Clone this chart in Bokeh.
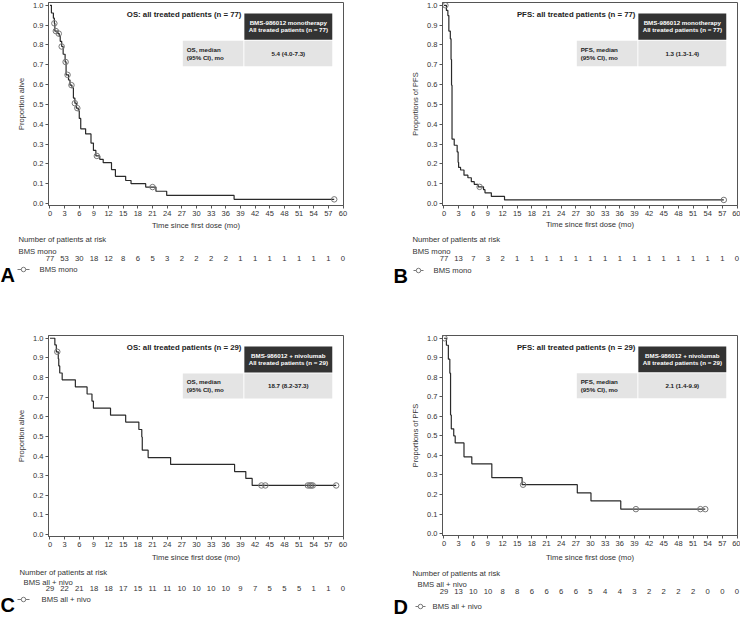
import numpy as np
from bokeh.plotting import figure
from bokeh.layouts import column, row
from bokeh.models import Range1d, FixedTicker, PrintfTickFormatter, Plot, ColumnDataSource
from bokeh.core.properties import value
from bokeh.embed import file_html
from bokeh.resources import INLINE

FONT = "Liberation Sans"
NOALIGN = {"frame_align": False} if "frame_align" in Plot.properties() else {}

# ---------------- data ----------------
x_ticks = list(range(0, 61, 3))
y_ticks = [0.0, 0.1, 0.2, 0.3, 0.4, 0.5, 0.6, 0.7, 0.8, 0.9, 1.0]

# A: OS, BMS-986012 monotherapy (n = 77)
times_A = [0, 0.3, 0.7, 0.9, 1.0, 1.6, 1.9, 2.1, 2.4, 2.7, 3.1, 3.3, 3.8, 4.1, 4.5,
           4.8, 5.1, 5.4, 5.8, 6.0, 6.3, 7.3, 8.4, 8.9, 9.4, 10.2, 10.9, 12.6, 13.4,
           15.5, 16.6, 19.6, 21.7, 23.9, 37.7]
surv_A = [1.0, 0.961, 0.935, 0.909, 0.870, 0.857, 0.844, 0.818, 0.792, 0.753, 0.714,
          0.649, 0.623, 0.597, 0.584, 0.532, 0.506, 0.481, 0.468, 0.429, 0.377, 0.351,
          0.305, 0.268, 0.240, 0.223, 0.206, 0.171, 0.137, 0.116, 0.100, 0.083, 0.062,
          0.041, 0.021]
end_A = 58.2
censor_A = [0.9, 1.2, 1.8, 2.4, 3.2, 3.6, 4.4, 5.1, 5.6, 9.6, 21.0, 58.2]
risk_A = [77, 53, 30, 18, 12, 8, 6, 5, 3, 2, 2, 2, 2, 1, 1, 1, 1, 1, 1, 1, 0]

# B: PFS, BMS-986012 monotherapy (n = 77)
times_B = [0, 0.5, 0.8, 1.0, 1.3, 1.45, 1.55, 1.65, 2.1, 2.7, 2.9, 3.0, 3.4, 4.1, 4.9,
           5.6, 6.2, 7.0, 8.1, 8.4, 9.7, 12.4]
surv_B = [1.0, 0.974, 0.948, 0.870, 0.831, 0.727, 0.597, 0.325, 0.294, 0.260, 0.208,
          0.182, 0.169, 0.143, 0.130, 0.110, 0.097, 0.084, 0.070, 0.054, 0.036, 0.018]
end_B = 57.3
censor_B = [0.3, 7.3, 57.3]
risk_B = [77, 13, 7, 3, 2, 1, 1, 1, 1, 1, 1, 1, 1, 1, 1, 1, 1, 1, 1, 1, 0]

# C: OS, BMS-986012 + nivolumab (n = 29)
times_C = [0, 1.0, 1.3, 1.7, 1.8, 2.0, 2.5, 5.2, 7.6, 8.6, 8.9, 12.4, 15.5, 18.2, 18.8,
           18.9, 20.1, 24.7, 37.8, 40.1, 41.4]
surv_C = [1.0, 0.966, 0.931, 0.895, 0.859, 0.823, 0.788, 0.752, 0.716, 0.680, 0.644,
          0.608, 0.573, 0.535, 0.497, 0.430, 0.392, 0.357, 0.321, 0.286, 0.250]
end_C = 58.6
censor_C = [1.5, 43.3, 44.1, 52.8, 53.2, 53.5, 53.8, 58.6]
risk_C = [29, 22, 21, 18, 18, 17, 15, 11, 11, 10, 10, 10, 10, 9, 7, 5, 5, 5, 1, 1, 0]

# D: PFS, BMS-986012 + nivolumab (n = 29)
times_D = [0, 0.5, 0.9, 1.2, 1.35, 1.5, 2.0, 2.3, 4.1, 5.7, 9.8, 16.0, 27.3, 30.1, 36.2]
surv_D = [1.0, 0.964, 0.893, 0.821, 0.607, 0.536, 0.500, 0.464, 0.393, 0.357, 0.286,
          0.250, 0.208, 0.167, 0.125]
end_D = 53.5
censor_D = [0.1, 16.2, 39.3, 52.5, 53.5]
risk_D = [29, 13, 10, 10, 8, 8, 6, 6, 6, 6, 5, 4, 4, 3, 2, 2, 2, 2, 0, 0, 0]

# ---------------- layout constants ----------------
X0, X1 = -0.3, 60.1
Y0, Y1 = -0.01, 1.014
W = 370
BOTTOM = 27


def step_path(times, surv, end):
    xs, ys = [times[0]], [surv[0]]
    for t, s_prev, s in zip(times[1:], surv[:-1], surv[1:]):
        xs += [t, t]
        ys += [s_prev, s]
    xs.append(end)
    ys.append(surv[-1])
    return xs, ys


def censor_levels(times, surv, cens):
    idx = np.searchsorted(np.array(times), np.array(cens), side="right") - 1
    return [surv[i] for i in idx]


def txt(p, x, y, s, size="7.5px", align="left", color="#333333", style="normal",
        baseline="middle"):
    p.text(x=[x], y=[y], text=[s], text_font=value(FONT), text_font_size=size,
           text_align=align, text_baseline=baseline, text_color=color,
           text_font_style=style)


def panel(times, surv, end, cens, risk, ylabel, title, box1, box2, stat_txt, group,
          letter, L, R, frame_h, tab_h, xl_standoff, offs, pos):
    H = 2 + frame_h + BOTTOM
    p = figure(width=W, height=H, x_range=Range1d(X0, X1), y_range=Range1d(Y0, Y1),
               output_backend="svg", toolbar_location=None,
               min_border_left=L, min_border_right=R,
               min_border_top=2, min_border_bottom=BOTTOM, **NOALIGN)
    p.xgrid.visible = False
    p.ygrid.visible = False
    p.outline_line_color = "#555555"
    p.outline_line_width = 1
    p.xaxis.ticker = FixedTicker(ticks=x_ticks)
    p.yaxis.ticker = FixedTicker(ticks=y_ticks)
    p.yaxis.formatter = PrintfTickFormatter(format="%.1f")
    for ax in p.xaxis + p.yaxis:
        ax.major_tick_in = 0
        ax.major_tick_out = 3
        ax.minor_tick_line_color = None
        ax.axis_line_color = "#555555"
        ax.major_tick_line_color = "#555555"
        ax.major_label_text_font = FONT
        ax.major_label_text_font_size = "7.5px"
        ax.major_label_text_color = "#333333"
        ax.major_label_standoff = 2
        ax.axis_label_text_font = FONT
        ax.axis_label_text_font_style = "normal"
        ax.axis_label_text_color = "#333333"
    p.yaxis.axis_label = ylabel
    p.yaxis.axis_label_text_font_size = "7.5px"
    p.yaxis.axis_label_standoff = 4
    p.xaxis.axis_label = "Time since first dose (mo)"
    p.xaxis.axis_label_text_font_size = "7.7px"
    p.xaxis.axis_label_standoff = xl_standoff

    # summary table boxes
    p.quad(left=[39.8], right=[57.8], top=[0.958], bottom=[0.826],
           fill_color="#333333", line_color=None)
    p.quad(left=[27.2, 39.8], right=[39.6, 57.8], top=[0.821, 0.821],
           bottom=[0.693, 0.693], fill_color="#e4e4e4", line_color=None)
    txt(p, 39.2, 0.952, title, size="7.8px", align="right", color="#222222", style="bold")
    txt(p, 48.8, 0.912, box1, size="6.2px", align="center", color="white", style="bold")
    txt(p, 48.8, 0.876, box2, size="6.2px", align="center", color="white", style="bold")
    txt(p, 28.0, 0.778, stat_txt[0], size="6.2px", color="#222222", style="bold")
    txt(p, 28.0, 0.737, stat_txt[1], size="6.2px", color="#222222", style="bold")
    txt(p, 48.8, 0.757, stat_txt[2], size="6.2px", align="center", color="#222222",
        style="bold")

    # KM curve
    xs, ys = step_path(times, surv, end)
    p.line(xs, ys, line_color="#2a2a2a", line_width=1.2)
    p.scatter(cens, censor_levels(times, surv, cens), marker="circle", size=5.5,
              fill_color=None, line_color="#777777", line_width=1)

    # number-at-risk table figure (frame spans the full width)
    kx = (X1 - X0) / (W - L - R)
    xs0 = X0 - L * kx
    xe0 = X1 + R * kx
    t = figure(width=W, height=tab_h, x_range=Range1d(xs0, xe0),
               y_range=Range1d(tab_h, 0), output_backend="svg", toolbar_location=None,
               min_border=0, min_border_left=0, min_border_right=0,
               min_border_top=0, min_border_bottom=0,
               x_axis_location=None, y_axis_location=None, **NOALIGN)
    t.xgrid.visible = False
    t.ygrid.visible = False
    t.outline_line_color = None

    def px(v):
        return xs0 + v * kx

    ly = offs["legend"]
    labels = ColumnDataSource(dict(
        x=[px(pos["number"]), px(pos["group"]), px(pos["legtext"])],
        y=[offs["number"], offs["group"], ly],
        text=["Number of patients at risk", group, group]))
    t.text(x="x", y="y", text="text", source=labels, text_font=value(FONT),
           text_font_size="7.7px", text_align="left", text_baseline="middle",
           text_color="#333333")
    t.text(x=x_ticks, y=[offs["numbers"]] * len(x_ticks), text=[str(v) for v in risk],
           text_font=value(FONT), text_font_size="7.7px", text_align="center",
           text_baseline="middle", text_color="#333333")
    t.line([px(pos["leg0"]), px(pos["leg1"])], [ly, ly], line_color="#777777",
           line_width=1)
    t.scatter([px((pos["leg0"] + pos["leg1"]) / 2)], [ly], marker="circle", size=4.5,
              fill_color="white", line_color="#777777", line_width=1)
    txt(t, px(pos["letter"]), offs["letter"], letter, size="20px", color="black",
        style="bold")
    return column(p, t)


offs_A = dict(number=7, group=19, numbers=26, legend=37, letter=42)
offs_B = dict(number=7, group=19, numbers=26, legend=38, letter=43)
offs_C = dict(number=8, group=18, numbers=24, legend=35, letter=40)
offs_D = dict(number=9, group=20, numbers=27, legend=42, letter=42)

pos_A = dict(number=18, group=18, leg0=17, leg1=29, legtext=39, letter=0)
pos_B = dict(number=42, group=42, leg0=43, leg1=53, legtext=63, letter=23)
pos_C = dict(number=19, group=23, leg0=17, leg1=29, legtext=41, letter=0)
pos_D = dict(number=42, group=47, leg0=45, leg1=55, legtext=62, letter=23)

mono1 = "BMS-986012 monotherapy"
mono2 = "All treated patients (n = 77)"
nivo1 = "BMS-986012 + nivolumab"
nivo2 = "All treated patients (n = 29)"

pA = panel(times_A, surv_A, end_A, censor_A, risk_A, "Proportion alive",
           "OS: all treated patients (n = 77)", mono1, mono2,
           ("OS, median", "(95% CI), mo", "5.4 (4.0-7.3)"), "BMS mono", "A",
           48, 27, 203, 101, 2, offs_A, pos_A)
pB = panel(times_B, surv_B, end_B, censor_B, risk_B, "Proportions of PFS",
           "PFS: all treated patients (n = 77)", mono1, mono2,
           ("PFS, median", "(95% CI), mo", "1.3 (1.3-1.4)"), "BMS mono", "B",
           72, 3, 203, 101, 1, offs_B, pos_B)
pC = panel(times_C, surv_C, end_C, censor_C, risk_C, "Proportion alive",
           "OS: all treated patients (n = 29)", nivo1, nivo2,
           ("OS, median", "(95% CI), mo", "18.7 (8.2-37.3)"), "BMS all + nivo", "C",
           48, 27, 202, 53, 3, offs_C, pos_C)
pD = panel(times_D, surv_D, end_D, censor_D, risk_D, "Proportions of PFS",
           "PFS: all treated patients (n = 29)", nivo1, nivo2,
           ("PFS, median", "(95% CI), mo", "2.1 (1.4-9.9)"), "BMS all + nivo", "D",
           72, 3, 202, 53, 4, offs_D, pos_D)

layout = column(row(pA, pB), row(pC, pD))
open("out.html", "w").write(file_html(layout, INLINE))
